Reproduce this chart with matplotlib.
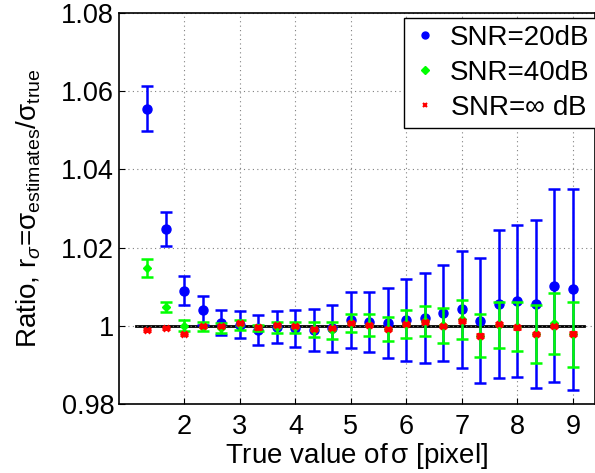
import numpy as np
import matplotlib
matplotlib.use("Agg")
import matplotlib.pyplot as plt
from matplotlib.lines import Line2D

plt.rcParams['font.family'] = ['Liberation Sans', 'DejaVu Sans']
plt.rcParams['mathtext.fontset'] = 'custom'
plt.rcParams['mathtext.rm'] = 'Liberation Sans'
plt.rcParams['mathtext.it'] = 'Liberation Sans:italic'

# true sigma values
sigma_true = [4/3, 5/3, 2, 7/3, 8/3, 3, 10/3, 11/3, 4, 13/3, 14/3, 5,
              16/3, 17/3, 6, 19/3, 20/3, 7, 22/3, 23/3, 8, 25/3, 26/3, 9]

# SNR = 20 dB
r_20 = [1.0555, 1.0248, 1.0090, 1.0040, 1.0008, 1.0003, 0.9990, 0.9998,
        0.9994, 0.9990, 0.9994, 1.0015, 1.0010, 1.0007, 1.0015, 1.0020,
        1.0032, 1.0042, 1.0013, 1.0056, 1.0063, 1.0056, 1.0102, 1.0093]
e_20 = [0.0058, 0.0044, 0.0038, 0.0037, 0.0032, 0.0035, 0.0038, 0.0041,
        0.0047, 0.0054, 0.0060, 0.0072, 0.0077, 0.0089, 0.0104, 0.0114,
        0.0123, 0.0150, 0.0160, 0.0190, 0.0195, 0.0215, 0.0247, 0.0257]

# SNR = 40 dB
r_40 = [1.0148, 1.0049, 1.0000, 0.9998, 0.9994, 1.0002, 0.9995, 0.9996,
        0.9996, 0.9990, 0.9988, 1.0007, 1.0002, 0.9992, 1.0005, 1.0012,
        1.0001, 1.0017, 0.9975, 1.0003, 0.9998, 0.9978, 1.0006, 0.9978]
e_40 = [0.0023, 0.0013, 0.0014, 0.0011, 0.0012, 0.0012, 0.0008, 0.0014,
        0.0014, 0.0019, 0.0021, 0.0024, 0.0027, 0.0030, 0.0035, 0.0038,
        0.0044, 0.0050, 0.0054, 0.0059, 0.0063, 0.0074, 0.0077, 0.0084]

# SNR = inf
r_inf = [0.9989, 0.9995, 0.9979, 0.9999, 1.0000, 1.0007, 0.9996, 1.0002,
         1.0000, 0.9992, 0.9994, 1.0007, 1.0002, 0.9992, 1.0004, 1.0010,
         1.0000, 1.0013, 0.9975, 1.0005, 0.9996, 0.9979, 0.9999, 0.9980]
e_inf = [0.0003] * 24

labels = ['SNR=20dB', 'SNR=40dB', r'SNR=$\infty$ dB']

fig = plt.figure(figsize=(5.95, 4.73), dpi=100)
ax = fig.add_axes([0.2, 0.1459, 0.8, 0.8266])

ax.plot([min(sigma_true) - 0.2, max(sigma_true) + 0.2], [1, 1], color='k', lw=2, zorder=1)

ax.errorbar(sigma_true, r_20, yerr=e_20, fmt='o', color='#0000ff', ms=6.5,
            elinewidth=1.8, capsize=4, capthick=1.8, zorder=2)
ax.errorbar(sigma_true, r_40, yerr=e_40, fmt='D', color='#00ff00', ms=4.5,
            elinewidth=1.8, capsize=4, capthick=1.8, zorder=3)
ax.errorbar(sigma_true, r_inf, yerr=e_inf, fmt='x', color='#ff0000', ms=4,
            mew=2, elinewidth=1.8, capsize=3, capthick=1.8, zorder=4)

ax.set_xlim(0.82, 9.4)
ax.set_ylim(0.98, 1.08)
ax.set_xticks([2, 3, 4, 5, 6, 7, 8, 9])
ax.set_yticks([0.98, 1.0, 1.02, 1.04, 1.06, 1.08])
ax.set_yticklabels(['0.98', '1', '1.02', '1.04', '1.06', '1.08'])
ax.tick_params(direction='in', labelsize=19.5, length=4, width=0.8)
ax.tick_params(axis='x', pad=7)
ax.grid(True, linestyle=(0, (1, 3)), color='#808080', lw=0.8)
for s in ax.spines.values():
    s.set_linewidth(1.2)

ax.set_xlabel(r'True value of$\,$σ [pixel]', fontsize=20, labelpad=1)
ax.set_ylabel(r'Ratio, r$_{σ}$=σ$_{\rm estimates}$/σ$_{\rm true}$', fontsize=20, labelpad=13)

handles = [Line2D([], [], ls='none', marker='o', color='#0000ff', ms=5),
           Line2D([], [], ls='none', marker='D', color='#00ff00', ms=4),
           Line2D([], [], ls='none', marker='x', color='#ff0000', ms=3.5, mew=1.5)]
leg = ax.legend(handles, labels, loc='upper left', bbox_to_anchor=(0.599, 0.987),
                borderaxespad=0, fontsize=20, fancybox=False, edgecolor='k',
                framealpha=1, handlelength=1.0, handletextpad=0.4,
                labelspacing=0.32, borderpad=0.25)
leg.get_frame().set_linewidth(1.0)

fig.savefig('out.png', dpi=100)
